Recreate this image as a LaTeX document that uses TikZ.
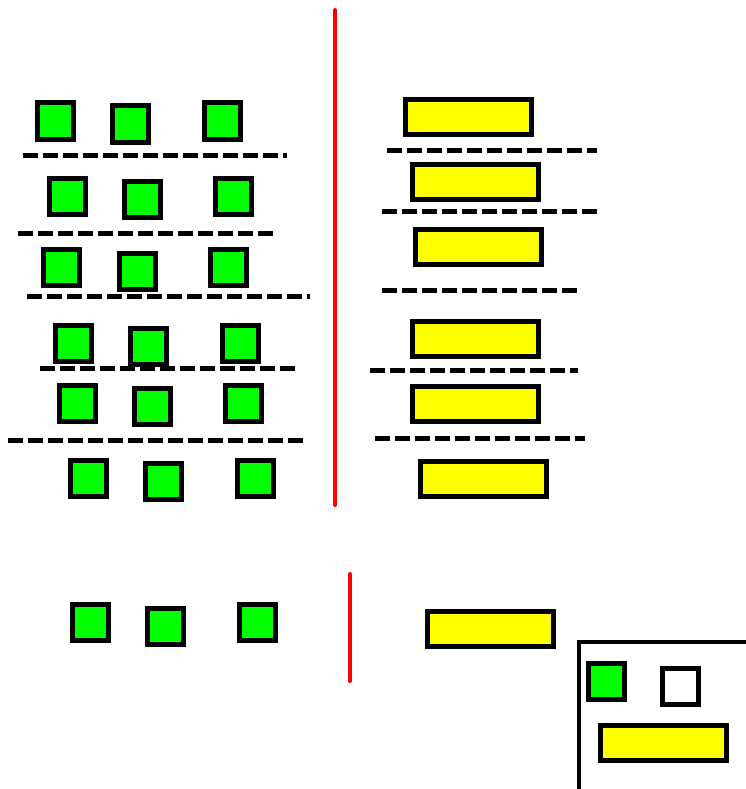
\documentclass[tikz,border=0pt]{standalone}
\begin{document}
\begin{tikzpicture}[x=1pt,y=-1pt,
  gsq/.style={draw=black,line width=5pt,fill={rgb,255:red,0;green,255;blue,0},minimum size=36pt,inner sep=0pt,outer sep=0pt},
  wsq/.style={draw=black,line width=5pt,fill=white,minimum size=36pt,inner sep=0pt,outer sep=0pt},
  ybox/.style={draw=black,line width=5pt,fill={rgb,255:red,255;green,255;blue,0},minimum width=126pt,minimum height=35pt,inner sep=0pt,outer sep=0pt},
  sep/.style={draw=black,line width=5pt,dash pattern=on 15pt off 5pt},
  redline/.style={draw={rgb,255:red,255;green,0;blue,0},line width=4pt,line cap=round}]
\useasboundingbox (0,0) rectangle (745,789);
% left green squares
\node[gsq] (g11) at (55,121) {};
\node[gsq] (g12) at (130,124) {};
\node[gsq] (g13) at (222,121) {};
\node[gsq] (g21) at (67,196) {};
\node[gsq] (g22) at (142,199) {};
\node[gsq] (g23) at (233,196) {};
\node[gsq] (g31) at (61,267) {};
\node[gsq] (g32) at (137,271) {};
\node[gsq] (g33) at (228,267) {};
\node[gsq] (g41) at (73,343) {};
\node[gsq] (g42) at (148,346) {};
\node[gsq] (g43) at (240,343) {};
\node[gsq] (g51) at (77,403) {};
\node[gsq] (g52) at (152,406) {};
\node[gsq] (g53) at (243,403) {};
\node[gsq] (g61) at (88,478) {};
\node[gsq] (g62) at (163,481) {};
\node[gsq] (g63) at (255,478) {};
\node[gsq] (g71) at (90,622) {};
\node[gsq] (g72) at (165,626) {};
\node[gsq] (g73) at (257,622) {};
% left separators
\draw[sep] (23,155) -- (287,155);
\draw[sep] (18,233) -- (273,233);
\draw[sep] (27,296) -- (310,296);
\draw[sep] (40,368) -- (295,368);
\draw[sep] (8,440) -- (303,440);
% red lines
\coordinate (r1a) at (335,10);
\coordinate (r1b) at (335,505);
\draw[redline] (r1a) -- (r1b);
\coordinate (r2a) at (350,574);
\coordinate (r2b) at (350,681);
\draw[redline] (r2a) -- (r2b);
% right yellow boxes
\node[ybox] (y1) at (468,117) {};
\node[ybox] (y2) at (475,182) {};
\node[ybox] (y3) at (478,247) {};
\node[ybox] (y4) at (475,339) {};
\node[ybox] (y5) at (475,404) {};
\node[ybox] (y6) at (483,479) {};
\node[ybox] (y7) at (490,629) {};
% right separators
\draw[sep] (387,150) -- (597,150);
\draw[sep] (382,211) -- (597,211);
\draw[sep] (382,290) -- (577,290);
\draw[sep] (370,370) -- (578,370);
\draw[sep] (375,438) -- (585,438);
% legend
\draw[black,line width=4pt] (579,642) rectangle (760,791);
\node[gsq] (lg) at (606,681) {};
\node[wsq] (lw) at (680,686) {};
\node[ybox] (ly) at (663,743) {};
\end{tikzpicture}
\end{document}
